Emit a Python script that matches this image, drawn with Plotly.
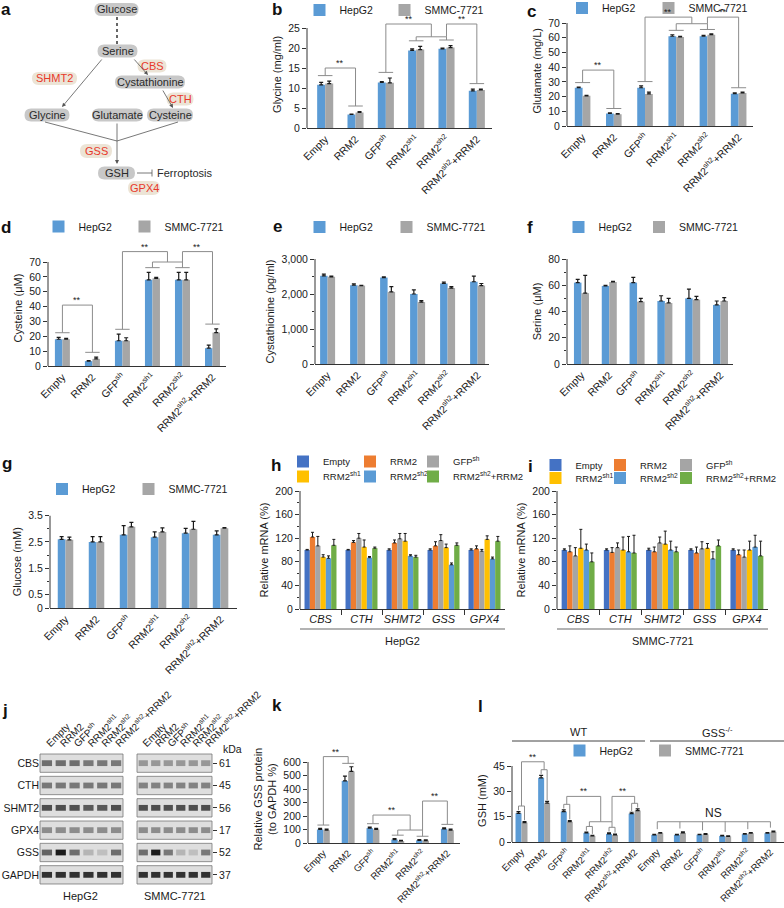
import plotly.graph_objects as go

W, H = 784, 908
FONT = "Liberation Sans, Arial, sans-serif"
BLUE = "#5b9bd5"
GRAY = "#a6a6a6"
AXC = "#333333"
ERRC = "#1a1a1a"
SIGC = "#8c8c8c"
TXT = "#1a1a1a"
MRNA_COLORS = ["#4472c4", "#ed7d31", "#a5a5a5", "#ffc000", "#5b9bd5", "#70ad47"]

conds = ["Empty", "RRM2", "GFP<sup>sh</sup>", "RRM2<sup>sh1</sup>", "RRM2<sup>sh2</sup>", "RRM2<sup>sh2</sup>+RRM2"]
genes = ["CBS", "CTH", "SHMT2", "GSS", "GPX4"]
proteins = ["CBS", "CTH", "SHMT2", "GPX4", "GSS", "GAPDH"]
kda = ["61", "45", "56", "17", "52", "37"]

# b Glycine (mg/ml)
gly_hep = [10.8, 3.4, 11.4, 19.4, 19.8, 9.3]
gly_hep_err = [0.6, 0.1, 0.2, 0.4, 0.2, 0.4]
gly_smmc = [11.1, 3.9, 11.3, 19.6, 20.1, 9.5]
gly_smmc_err = [0.6, 0.2, 1.2, 0.8, 0.5, 0.2]
# c Glutamate (mg/L)
glu_hep = [26.0, 8.5, 26.0, 61.0, 61.0, 22.0]
glu_hep_err = [0.5, 0.4, 1.2, 1.0, 0.6, 0.6]
glu_smmc = [20.5, 8.0, 21.8, 60.5, 62.0, 22.5]
glu_smmc_err = [0.4, 0.4, 1.2, 0.5, 0.6, 0.5]
# d Cysteine (uM)
cys_hep = [18.0, 3.3, 17.0, 58.0, 58.0, 12.0]
cys_hep_err = [1.2, 0.3, 4.5, 5.0, 5.0, 2.0]
cys_smmc = [18.0, 4.8, 17.0, 59.0, 58.0, 22.5]
cys_smmc_err = [0.6, 1.2, 2.0, 0.6, 5.0, 2.5]
# e Cystathionine (pg/ml)
cth_hep = [2520, 2250, 2470, 2000, 2300, 2350]
cth_hep_err = [50, 40, 20, 120, 40, 160]
cth_smmc = [2490, 2240, 2060, 1770, 2170, 2240]
cth_smmc_err = [20, 10, 150, 40, 40, 60]
# f Serine (uM)
ser_hep = [62.0, 59.5, 62.0, 48.0, 50.0, 45.0]
ser_hep_err = [2.5, 0.5, 4.0, 4.0, 7.0, 3.0]
ser_smmc = [54.0, 62.5, 47.5, 46.5, 49.0, 48.0]
ser_smmc_err = [13.5, 0.5, 2.5, 3.5, 2.5, 2.5]
# g Glucose (mM)
glc_hep = [2.6, 2.5, 2.77, 2.68, 2.83, 2.77]
glc_hep_err = [0.1, 0.2, 0.35, 0.2, 0.18, 0.15]
glc_smmc = [2.58, 2.5, 3.07, 2.88, 2.98, 3.02]
glc_smmc_err = [0.1, 0.2, 0.17, 0.15, 0.3, 0.02]
# h Relative mRNA HepG2 (rows: conditions, cols: genes)
mrna_hep = [
    [100, 100, 100, 100, 100],
    [122, 113, 112, 107, 102],
    [107, 120, 119, 116, 98],
    [88, 105, 115, 104, 118],
    [86, 87, 90, 75, 85],
    [108, 103, 88, 108, 115],
]
mrna_hep_err = [
    [1, 1, 2, 2, 2],
    [8, 3, 5, 7, 5],
    [16, 8, 9, 10, 3],
    [4, 12, 13, 6, 6],
    [4, 2, 2, 3, 3],
    [10, 2, 3, 4, 8],
]
# i Relative mRNA SMMC-7721
mrna_smmc = [
    [100, 100, 100, 100, 100],
    [97, 96, 97, 95, 92],
    [90, 104, 112, 102, 88],
    [103, 100, 110, 103, 100],
    [100, 97, 100, 85, 105],
    [80, 95, 97, 107, 90],
]
mrna_smmc_err = [
    [2, 2, 3, 2, 2],
    [10, 8, 8, 10, 8],
    [14, 8, 10, 12, 12],
    [32, 22, 22, 8, 15],
    [10, 26, 15, 12, 20],
    [15, 30, 8, 10, 25],
]
# j western blot band intensity (rows: proteins, cols: lanes)
blot_hep = [
    [0.55, 0.55, 0.55, 0.5, 0.5, 0.5],
    [0.5, 0.5, 0.5, 0.5, 0.5, 0.5],
    [0.7, 0.7, 0.7, 0.65, 0.65, 0.7],
    [0.4, 0.4, 0.4, 0.4, 0.4, 0.4],
    [0.6, 0.95, 0.55, 0.2, 0.15, 0.55],
    [0.85, 0.85, 0.85, 0.85, 0.85, 0.85],
]
blot_smmc = [
    [0.35, 0.35, 0.35, 0.35, 0.35, 0.35],
    [0.45, 0.45, 0.45, 0.45, 0.45, 0.45],
    [0.7, 0.7, 0.7, 0.7, 0.7, 0.7],
    [0.4, 0.4, 0.4, 0.4, 0.4, 0.4],
    [0.55, 0.95, 0.5, 0.2, 0.15, 0.5],
    [0.85, 0.85, 0.85, 0.85, 0.85, 0.85],
]
# k Relative GSS protein (to GAPDH %)
gss_hep = [100, 460, 110, 25, 20, 105]
gss_hep_err = [8, 35, 8, 8, 5, 8]
gss_smmc = [95, 530, 100, 15, 18, 95]
gss_smmc_err = [8, 35, 8, 5, 5, 8]
# l GSH (mM), WT then GSS-/-
gsh_hep = [17.0, 38.0, 18.0, 5.4, 4.8, 16.8, 4.2, 4.2, 4.3, 3.6, 4.6, 5.2]
gsh_hep_err = [1.0, 1.5, 1.0, 0.5, 0.6, 0.8, 0.4, 0.4, 0.3, 0.3, 0.4, 0.4]
gsh_smmc = [11.5, 23.0, 12.0, 3.6, 4.2, 18.6, 5.2, 5.4, 4.5, 3.3, 5.2, 6.0]
gsh_smmc_err = [0.6, 1.0, 0.6, 0.4, 0.5, 1.0, 0.4, 0.6, 0.4, 0.3, 0.4, 0.5]

fig = go.Figure()
shapes, annos, lay = [], [], {}
_leg = [0]


def fx(p):
    return p / W


def fy(p):
    return 1 - p / H


def sx(n):
    return '' if n == 1 else str(n)


def txt(x, y, text, size=11, color=TXT, xanchor='center', yanchor='middle', **kw):
    d = dict(xref='paper', yref='paper', x=fx(x), y=fy(y), text=text, showarrow=False,
             xanchor=xanchor, yanchor=yanchor, font=dict(size=size, color=color))
    d.update(kw)
    annos.append(d)


def new_legend(cx, cy, size=10.5, shift=4):
    # one legend per entry; cx, cy = wanted key-square centre (px)
    _leg[0] += 1
    key = 'legend' if _leg[0] == 1 else f'legend{_leg[0]}'
    lay[key] = dict(orientation='h', x=fx(cx - shift - 20), y=fy(cy - 14.5), xanchor='left', yanchor='top',
                    itemwidth=30, font=dict(size=size, color=TXT, family=FONT),
                    bgcolor='rgba(0,0,0,0)', borderwidth=0, tracegroupgap=0,
                    itemclick=False, itemdoubleclick=False)
    return key


def setup_axes(n, xl, xr, xrange, y0, ytp, ytop, ymax, yvals, ytext, yminor, title, cats,
               tickangle=-45, xminor=None, catfont=10.5, standoff=4):
    s = sx(n)
    ppu = (y0 - ytp) / ytop
    top = y0 - ymax * ppu
    xa = dict(domain=[fx(xl), fx(xr)], range=xrange, anchor='y' + s, tickmode='array',
              tickvals=list(range(len(cats))), ticktext=cats, tickangle=tickangle, ticks='',
              showline=True, linecolor=AXC, linewidth=1, showgrid=False, zeroline=False,
              tickfont=dict(size=catfont, color=TXT), automargin=False, fixedrange=True)
    if xminor is not None:
        xa['minor'] = dict(tickvals=xminor, ticks='outside', ticklen=5, tickcolor=AXC, showgrid=False)
    lay['xaxis' + s] = xa
    ya = dict(domain=[fy(y0), fy(top)], range=[0, ymax], anchor='x' + s, tickmode='array',
              tickvals=yvals, ticktext=ytext, ticks='outside', ticklen=4, tickcolor=AXC,
              showline=False, showgrid=False, zeroline=False, automargin=False, fixedrange=True,
              tickfont=dict(size=10.5, color=TXT),
              title=dict(text=title, font=dict(size=11, color=TXT), standoff=standoff))
    if yminor is not None:
        ya['minor'] = dict(tickvals=yminor, ticks='outside', ticklen=2.5, tickcolor=AXC, showgrid=False)
    lay['yaxis' + s] = ya
    shapes.append(dict(type='line', xref='x' + s + ' domain', yref='y' + s, x0=0, x1=0, y0=0, y1=ytop,
                       line=dict(color=AXC, width=1), layer='above'))


def add_pair(n, hep, he, sm, se, w, legpos=None):
    s = sx(n)
    x = list(range(len(hep)))
    specs = [('HepG2', hep, he, BLUE, -w), ('SMMC-7721', sm, se, GRAY, 0)]
    for k, (name, vals, errs, col, off) in enumerate(specs):
        kw = dict(showlegend=False)
        if legpos:
            kw = dict(showlegend=True, legend=new_legend(*legpos[k]))
        fig.add_trace(go.Bar(
            x=x, y=vals, width=w, offset=off, name=name,
            marker=dict(color=col, line=dict(width=0)),
            error_y=dict(type='data', symmetric=False, array=errs, arrayminus=[0] * len(vals),
                         color=ERRC, thickness=1.2, width=2),
            xaxis='x' + s, yaxis='y' + s, **kw))


def seg(n, pts):
    s = sx(n)
    d = 'M' + ' L'.join(f'{x},{y}' for x, y in pts)
    shapes.append(dict(type='path', xref='x' + s, yref='y' + s, path=d,
                       line=dict(color=SIGC, width=1), layer='above'))


def cap(n, i, y, half=0.24):
    seg(n, [(i - half, y), (i + half, y)])


def link(n, xa, ya, xb, yb, top, star=True, text='**', size=9):
    seg(n, [(xa, ya), (xa, top), (xb, top), (xb, yb)])
    if star:
        s = sx(n)
        annos.append(dict(xref='x' + s, yref='y' + s, x=(xa + xb) / 2, y=top, text=text,
                          showarrow=False, xanchor='center', yanchor='bottom', yshift=-2,
                          font=dict(size=size, color=TXT)))


def gtop(hep, he, sm, se, i):
    return max(hep[i] + he[i], sm[i] + se[i])


def std_brackets(n, hep, he, sm, se, pad, t1, tj, t2):
    c = [gtop(hep, he, sm, se, i) + pad for i in range(6)]
    for i in range(6):
        cap(n, i, c[i])
    link(n, 0, c[0], 1, c[1], t1)
    link(n, 3, c[3], 4, c[4], tj, star=False)
    link(n, 2, c[2], 3.5, tj, t2)
    link(n, 4, tj, 5, c[5], t2)


def rng(a, b, s):
    out = []
    v = a
    while v <= b + 1e-9:
        out.append(v)
        v += s
    return out


# ---------------- panel b ----------------
setup_axes(1, 307, 492, [-0.6, 5.5], 128, 28, 25, 26.8, rng(0, 25, 5), [str(v) for v in rng(0, 25, 5)],
           None, 'Glycine (mg/ml)', conds)
add_pair(1, gly_hep, gly_hep_err, gly_smmc, gly_smmc_err, 0.265, [(323.5, 10), (408.5, 10)])
std_brackets(1, gly_hep, gly_hep_err, gly_smmc, gly_smmc_err, 1.4, 15, 22.8, 26)

# ---------------- panel c ----------------
setup_axes(2, 567, 753, [-0.5, 5.46], 126, 23, 70, 75, rng(0, 70, 10), [str(v) for v in rng(0, 70, 10)],
           None, 'Glutamate (mg/L)', conds)
add_pair(2, glu_hep, glu_hep_err, glu_smmc, glu_smmc_err, 0.25, [(586, 8), (672.5, 8)])
std_brackets(2, glu_hep, glu_hep_err, glu_smmc, glu_smmc_err, 3, 38, 69.5, 74)

# ---------------- panel d ----------------
setup_axes(3, 48, 226, [-0.48, 5.45], 366, 262, 70, 78, rng(0, 70, 10), [str(v) for v in rng(0, 70, 10)],
           None, 'Cysteine (μM)', conds)
add_pair(3, cys_hep, cys_hep_err, cys_smmc, cys_smmc_err, 0.25, [(62.5, 226.5), (148.5, 226.5)])
std_brackets(3, cys_hep, cys_hep_err, cys_smmc, cys_smmc_err, 3.2, 41, 70, 77)

# ---------------- panel e ----------------
setup_axes(4, 315, 489, [-0.42, 5.38], 364, 259, 3000, 3000, [0, 1000, 2000, 3000],
           ['0', '1,000', '2,000', '3,000'], [500, 1500, 2500], 'Cystathionine (pg/ml)', conds)
add_pair(4, cth_hep, cth_hep_err, cth_smmc, cth_smmc_err, 0.25, [(323.5, 227), (410.5, 227)])

# ---------------- panel f ----------------
setup_axes(5, 567, 733, [-0.52, 5.45], 364, 259, 80, 80, rng(0, 80, 20), [str(v) for v in rng(0, 80, 20)],
           [10, 30, 50, 70], 'Serine (μM)', conds)
add_pair(5, ser_hep, ser_hep_err, ser_smmc, ser_smmc_err, 0.27, [(582.5, 227), (663, 227)])

# ---------------- panel g ----------------
setup_axes(6, 50, 237, [-0.5, 5.53], 608, 515.5, 3.5, 3.5, [0, 0.5, 1.5, 2.5, 3.5],
           ['0', '0.5', '1.5', '2.5', '3.5'], [1, 2, 3], 'Glucose (mM)', conds)
add_pair(6, glc_hep, glc_hep_err, glc_smmc, glc_smmc_err, 0.25, [(66, 489), (152.5, 489)])

# ---------------- panels h, i ----------------
gene_labels = [f'<i>{g}</i>' for g in genes]
for n, xl, xr, vals, errs, lxs, ly1, ly2, cell in [
        (7, 300, 505, mrna_hep, mrna_hep_err, [304, 371, 434], 461.5, 476.5, 'HepG2'),
        (8, 557, 768, mrna_smmc, mrna_smmc_err, [556.5, 621, 687], 465, 478, 'SMMC-7721')]:
    setup_axes(n, xl, xr, [-0.5, 4.5], 609, 491, 200, 200, rng(0, 200, 40), [str(v) for v in rng(0, 200, 40)],
               rng(20, 180, 40), 'Relative mRNA (%)', gene_labels, tickangle=0,
               xminor=[0.5, 1.5, 2.5, 3.5], catfont=11)
    w = 0.13
    for k in range(6):
        lg = new_legend(lxs[k % 3], ly1 if k < 3 else ly2, size=9.5, shift=1)
        fig.add_trace(go.Bar(
            x=list(range(5)), y=vals[k], width=w, offset=-3 * w + k * w, name=conds[k],
            marker=dict(color=MRNA_COLORS[k], line=dict(width=0)),
            error_y=dict(type='data', symmetric=False, array=errs[k], arrayminus=[0] * 5,
                         color=ERRC, thickness=1, width=1.5),
            xaxis='x' + sx(n), yaxis='y' + sx(n), legend=lg, showlegend=True))
    shapes.append(dict(type='line', xref='paper', yref='paper', x0=fx(xl), x1=fx(xr), y0=fy(629), y1=fy(629),
                       line=dict(color='#9a9a9a', width=1.5)))
    txt((xl + xr) / 2, 641, cell)

# ---------------- panel j (blots) ----------------
for n, xl, xr, data, cell, cx in [(9, 40, 123, blot_hep, 'HepG2', 80), (10, 137, 212, blot_smmc, 'SMMC-7721', 175)]:
    s = sx(n)
    lay['xaxis' + s] = dict(domain=[fx(xl), fx(xr)], range=[-0.5, 5.5], anchor='y' + s, side='top',
                            tickmode='array', tickvals=list(range(6)), ticktext=conds, tickangle=-45,
                            ticks='', showline=False, showgrid=False, zeroline=False,
                            tickfont=dict(size=10, color=TXT), fixedrange=True, automargin=False)
    ya = dict(domain=[fy(886), fy(752)], range=[5.5, -0.5], anchor='x' + s, tickmode='array',
              tickvals=list(range(6)), showline=False, showgrid=False, zeroline=False,
              tickfont=dict(size=10.5, color=TXT), fixedrange=True, automargin=False)
    if n == 9:
        ya.update(ticktext=proteins, ticks='')
    else:
        ya.update(ticktext=kda, ticks='outside', ticklen=4, tickcolor=AXC, side='right')
    lay['yaxis' + s] = ya
    for r in range(6):
        shapes.append(dict(type='rect', xref='x' + s + ' domain', yref='y' + s, x0=0, x1=1, y0=r - 0.41,
                           y1=r + 0.41, fillcolor='#dedede', line=dict(color='#777777', width=0.8),
                           layer='below'))
    xs, bases, cols = [], [], []
    for r in range(6):
        for c in range(6):
            xs.append(c)
            bases.append(r - 0.13)
            cols.append(data[r][c])
    fig.add_trace(go.Bar(x=xs, y=[0.26] * 36, base=bases, width=0.74, offset=-0.37,
                         marker=dict(color=cols, colorscale=[[0, '#dedede'], [1, '#121212']], cmin=0, cmax=1,
                                     line=dict(width=0)),
                         xaxis='x' + s, yaxis='y' + s, showlegend=False, hoverinfo='skip'))
    txt(cx, 896, cell)
txt(232, 749, 'kDa', size=10.5)

# ---------------- panel k ----------------
setup_axes(11, 308, 460, [-0.62, 5.51], 843, 762, 600, 650, rng(0, 600, 100), [str(v) for v in rng(0, 600, 100)],
           None, 'Relative GSS protein<br>(to GAPDH %)', conds, catfont=9.5)
add_pair(11, gss_hep, gss_hep_err, gss_smmc, gss_smmc_err, 0.26)
ck = [gtop(gss_hep, gss_hep_err, gss_smmc, gss_smmc_err, i) + 25 for i in range(6)]
for i in range(6):
    cap(11, i, ck[i])
link(11, 0, ck[0], 1, ck[1], 640)
link(11, 3, ck[3], 4, ck[4], 96, star=False)
link(11, 2, ck[2], 3.5, 96, 207)
link(11, 4, 96, 5, ck[5], 311)

# ---------------- panel l ----------------
setup_axes(12, 512, 784, [-0.42, 11.6], 842, 766, 45, 49, [0, 15, 30, 45], ['0', '15', '30', '45'],
           None, 'GSH (mM)', conds + conds, catfont=9.5)
wl = 0.265
add_pair(12, gsh_hep, gsh_hep_err, gsh_smmc, gsh_smmc_err, wl, [(583.5, 750.5), (669, 750.5)])
J = []
for i in range(6):
    bt = gsh_hep[i] + gsh_hep_err[i] + 0.8
    gtp = gsh_smmc[i] + gsh_smmc_err[i] + 0.8
    j = max(bt, gtp) + 2.5
    J.append(j)
    seg(12, [(i - wl / 2, bt), (i - wl / 2, j), (i + wl / 2, j), (i + wl / 2, gtp)])
link(12, 0, J[0], 1, J[1], 47.5)
link(12, 3, J[3], 4, J[4], 12, star=False)
link(12, 2, J[2], 3.5, 12, 27)
link(12, 4, 12, 5, J[5], 27)
for i in range(6, 12):
    seg(12, [(i, 12), (i, gtop(gsh_hep, gsh_hep_err, gsh_smmc, gsh_smmc_err, i) + 2)])
seg(12, [(6, 12), (11, 12)])
annos.append(dict(xref='x12', yref='y12', x=8.5, y=12, text='NS', showarrow=False, xanchor='center',
                  yanchor='bottom', font=dict(size=12, color=TXT)))
for x0, x1, t in [(512, 645, 'WT'), (650, 784, 'GSS<sup>-/-</sup>')]:
    shapes.append(dict(type='line', xref='paper', yref='paper', x0=fx(x0), x1=fx(x1), y0=fy(741), y1=fy(741),
                       line=dict(color='#444', width=1)))
    txt((x0 + x1) / 2, 732, t)


# ---------------- panel a (pathway diagram) ----------------
def rpath(cx, cy, w, h):
    r = h / 2
    x0, x1, y0, y1 = cx - w / 2, cx + w / 2, cy - h / 2, cy + h / 2
    pts = [('M', x0 + r, y0), ('L', x1 - r, y0), ('Q', x1, y0, x1, cy), ('Q', x1, y1, x1 - r, y1),
           ('L', x0 + r, y1), ('Q', x0, y1, x0, cy), ('Q', x0, y0, x0 + r, y0)]
    d = ''
    for p in pts:
        co = p[1:]
        d += p[0] + ' '.join(f'{fx(co[i]):.5f},{fy(co[i + 1]):.5f}' for i in range(0, len(co), 2)) + ' '
    return d + 'Z'


nodes = [("Glucose", 116.5, 9.5, 44, 13), ("Serine", 117.5, 51, 40, 13), ("Cystathionine", 150, 82, 70, 13),
         ("Glycine", 47, 115, 45, 13), ("Glutamate", 117.5, 115, 51, 13), ("Cysteine", 170, 115, 46, 13),
         ("GSH", 116.5, 173, 37, 13)]
enzymes = [("SHMT2", 54.5, 78.5, 45, 13), ("CBS", 152, 66, 29, 13), ("CTH", 180, 99, 27, 13),
           ("GSS", 96, 151, 32, 14), ("GPX4", 144, 188, 32, 14)]
for name, cx, cy, w, h in nodes:
    shapes.append(dict(type='path', xref='paper', yref='paper', path=rpath(cx, cy, w, h),
                       fillcolor='#c8c8c8', line=dict(width=0), layer='below'))
    txt(cx, cy, name, size=11, color='#2a2a2a')
for name, cx, cy, w, h in enzymes:
    shapes.append(dict(type='path', xref='paper', yref='paper', path=rpath(cx, cy, w, h),
                       fillcolor='#ece4d6', line=dict(width=0), layer='below'))
    txt(cx, cy, name, size=11, color='#e8392b')


def pline(x0, y0, x1, y1, dash='solid', width=0.8, color='#555'):
    shapes.append(dict(type='line', xref='paper', yref='paper', x0=fx(x0), y0=fy(y0), x1=fx(x1), y1=fy(y1),
                       line=dict(color=color, width=width, dash=dash)))


def parrow(tx, ty, hx, hy):
    annos.append(dict(xref='paper', yref='paper', x=fx(hx), y=fy(hy), ax=tx - hx, ay=ty - hy,
                      axref='pixel', ayref='pixel', text='', showarrow=True, arrowhead=2, arrowsize=1,
                      arrowwidth=0.8, arrowcolor='#555', standoff=0, startstandoff=0))


pline(117, 17, 117, 44, dash='dot', width=2, color='#666')
parrow(103, 58, 62, 107)
parrow(133, 58, 148, 75)
parrow(162, 89, 173, 108)
pline(45, 122, 117, 141)
pline(178, 122, 117, 141)
parrow(117, 122, 117, 164)
pline(137, 173, 152, 173)
pline(152, 169.5, 152, 176.5)
txt(155, 173, 'Ferroptosis', size=11, color='#2a2a2a', xanchor='left')

# ---------------- panel letters ----------------
for t, x, y in [('a', 6, 9), ('b', 277, 9), ('c', 531, 11), ('d', 6, 228), ('e', 277, 226), ('f', 530, 227),
                ('g', 7, 463), ('h', 276, 465), ('i', 530, 466), ('j', 5, 710), ('k', 277, 705), ('l', 480, 706)]:
    txt(x, y, f'<b>{t}</b>', size=17, color='#111')

fig.update_layout(
    width=W, height=H, margin=dict(l=0, r=0, t=0, b=0, autoexpand=False), template='none',
    paper_bgcolor='white', plot_bgcolor='white', font=dict(family=FONT, color=TXT),
    barmode='overlay', hovermode=False, showlegend=True,
    shapes=shapes, annotations=annos, **lay)

fig.write_html("out.html", config={'displayModeBar': False, 'staticPlot': False},
               post_script="document.body.style.margin='0px';document.body.style.padding='0px';")
